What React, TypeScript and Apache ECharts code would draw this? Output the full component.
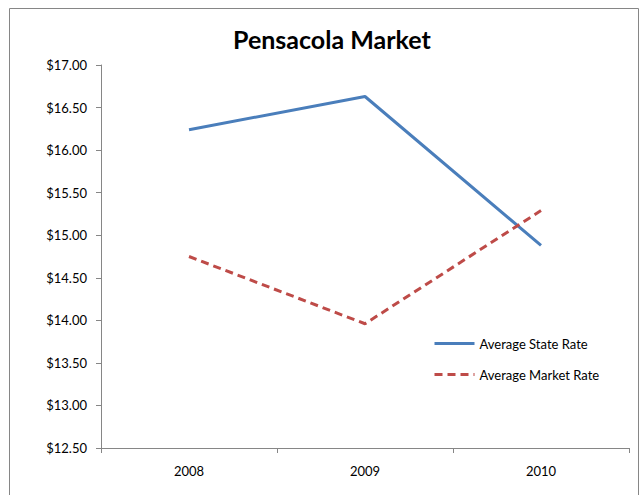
import React, { useEffect, useRef } from "react";
import * as echarts from "echarts";

const categories = ["2008", "2009", "2010"];
const stateRate = [16.24, 16.63, 14.88];
const marketRate = [14.75, 13.96, 15.29];
const seriesNames = ["Average State Rate", "Average Market Rate"];

export default function App() {
  const ref = useRef<HTMLDivElement>(null);
  useEffect(() => {
    if (!ref.current) return;
    const chart = echarts.init(ref.current, undefined, { renderer: "svg" });
    const font = "Lato, 'Open Sans', sans-serif";
    chart.setOption({
      animation: false,
      backgroundColor: "#fff",
      graphic: [
        {
          type: "rect",
          shape: { x: 9.5, y: 8.5, width: 629, height: 500 },
          style: { fill: "none", stroke: "#868686", lineWidth: 1 },
          silent: true,
        },
      ],
      title: {
        text: "Pensacola Market",
        left: 228,
        top: 21,
        textStyle: { fontFamily: font, fontWeight: "bold", fontSize: 25, color: "#000" },
      },
      legend: {
        orient: "vertical",
        left: 428,
        top: 332,
        itemWidth: 40,
        itemHeight: 14,
        itemGap: 18,
        itemStyle: { opacity: 0 },
        lineStyle: { width: 3 },
        textStyle: { fontFamily: font, fontSize: 13, color: "#000" },
        data: seriesNames,
      },
      grid: { left: 101, right: 12, top: 65, bottom: 47 },
      xAxis: {
        type: "category",
        data: categories,
        boundaryGap: true,
        axisLine: { lineStyle: { color: "#868686" } },
        axisTick: { show: true, length: 5, lineStyle: { color: "#868686" } },
        axisLabel: { margin: 16, fontFamily: font, fontSize: 13, color: "#000" },
      },
      yAxis: {
        type: "value",
        min: 12.5,
        max: 17,
        interval: 0.5,
        axisLine: { show: true, lineStyle: { color: "#868686" } },
        axisTick: { show: true, length: 5, lineStyle: { color: "#868686" } },
        splitLine: { show: false },
        axisLabel: {
          margin: 14,
          fontFamily: font,
          fontSize: 13,
          color: "#000",
          formatter: (v: number) => "$" + v.toFixed(2),
        },
      },
      series: [
        {
          name: seriesNames[0],
          type: "line",
          data: stateRate,
          symbol: "none",
          color: "#4a7ebb",
          lineStyle: { width: 3, color: "#4a7ebb" },
        },
        {
          name: seriesNames[1],
          type: "line",
          data: marketRate,
          symbol: "none",
          color: "#be4b48",
          lineStyle: { width: 3, color: "#be4b48", type: [8, 5] },
        },
      ],
    });
    return () => chart.dispose();
  }, []);
  return (
    <div
      ref={ref}
      style={{ position: "fixed", left: 0, top: 0, width: 641, height: 495 }}
    />
  );
}
